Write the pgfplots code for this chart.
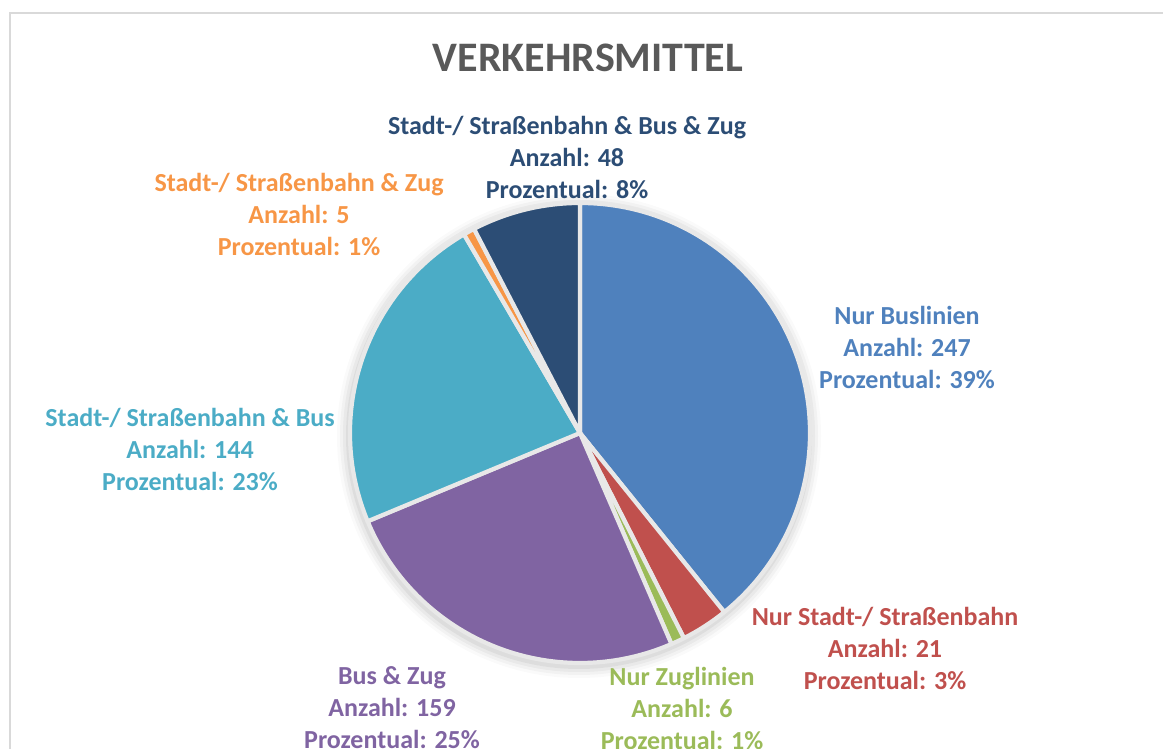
\documentclass[border=0pt]{standalone}
\usepackage{pgfplots}
\pgfplotsset{compat=1.18}
\usepackage{pgfplotstable}
\usepackage{fontspec}
\setmainfont{Carlito}
\definecolor{cBus}{HTML}{4F81BD}
\definecolor{cStr}{HTML}{C0504D}
\definecolor{cZug}{HTML}{9BBB59}
\definecolor{cBZ}{HTML}{8064A2}
\definecolor{cSB}{HTML}{4BACC6}
\definecolor{cSZ}{HTML}{F79646}
\definecolor{cSBZ}{HTML}{2C4D75}
\definecolor{gapgray}{HTML}{E8E8E8}
\definecolor{framegray}{HTML}{D9D9D9}
\definecolor{titlegray}{HTML}{595959}

% slice values (Anzahl), clockwise from 12 o'clock
\pgfplotstableread{
value
247
21
6
159
144
5
48
}\pietable

% total and cumulative angles (computed in the preamble)
\def\total{0}
\pgfplotsforeachungrouped \i in {0,...,6}{%
  \pgfplotstablegetelem{\i}{value}\of\pietable
  \pgfmathsetmacro\total{\total+\pgfplotsretval}%
}
\def\cum{0}
\pgfplotsforeachungrouped \i in {0,...,6}{%
  \pgfplotstablegetelem{\i}{value}\of\pietable
  \pgfmathsetmacro\s{90-360*(\cum/\total)}%
  \pgfmathsetmacro\cum{\cum+\pgfplotsretval}%
  \pgfmathsetmacro\e{90-360*(\cum/\total)}%
  \expandafter\xdef\csname sA\i\endcsname{\s}%
  \expandafter\xdef\csname eA\i\endcsname{\e}%
}
\newcommand\slice[2]{%
  \edef\tmpS{\csname sA#1\endcsname}\edef\tmpE{\csname eA#1\endcsname}%
  \edef\cmd{\noexpand\filldraw[fill=#2, draw=gapgray, line width=2.1pt, line join=round]
    (axis cs:580,316) -- ++(\tmpS:115pt) arc[start angle=\tmpS, end angle=\tmpE, radius=115pt] -- cycle;}%
  \cmd}

\begin{document}%
\begin{tikzpicture}
\begin{axis}[
  scale only axis, width=581.5pt, height=374.5pt,
  xmin=0, xmax=1163, ymin=0, ymax=749,
  hide axis, clip=false,
]
% chart frame
\draw[framegray, line width=1pt] (axis cs:10,-20) -- (axis cs:10,736) -- (axis cs:1180,736);
% title
\node[font=\fontsize{21}{25}\selectfont\bfseries, text=titlegray] at (axis cs:588,691) {VERKEHRSMITTEL};
% soft shadow
\fill[black, opacity=0.02] (axis cs:579,313) circle[radius=121pt];
\fill[black, opacity=0.03] (axis cs:579,313) circle[radius=119.5pt];
\fill[black, opacity=0.04] (axis cs:579,313) circle[radius=118pt];
\fill[black, opacity=0.05] (axis cs:579,313) circle[radius=116.5pt];
\slice{0}{cBus}
\slice{1}{cStr}
\slice{2}{cZug}
\slice{3}{cBZ}
\slice{4}{cSB}
\slice{5}{cSZ}
\slice{6}{cSBZ}
% labels
\tikzset{lab/.style={font=\fontsize{13}{16}\selectfont\bfseries, align=center, anchor=center, inner sep=0pt}}
\node[lab, text=cSBZ] at (axis cs:567,592) {Stadt-/ Straßenbahn \& Bus \& Zug\\Anzahl: 48\\Prozentual: 8\%};
\node[lab, text=cSZ] at (axis cs:299,535) {Stadt-/ Straßenbahn \& Zug\\Anzahl: 5\\Prozentual: 1\%};
\node[lab, text=cBus] at (axis cs:907,402) {Nur Buslinien\\Anzahl: 247\\Prozentual: 39\%};
\node[lab, text=cSB] at (axis cs:190,300) {Stadt-/ Straßenbahn \& Bus\\Anzahl: 144\\Prozentual: 23\%};
\node[lab, text=cStr] at (axis cs:885,101) {Nur Stadt-/ Straßenbahn\\Anzahl: 21\\Prozentual: 3\%};
\node[lab, text=cBZ] at (axis cs:392,41) {Bus \& Zug\\Anzahl: 159\\Prozentual: 25\%};
\node[lab, text=cZug] at (axis cs:682,41) {Nur Zuglinien\\Anzahl: 6\\Prozentual: 1\%};
\end{axis}
\pgfresetboundingbox
\path[use as bounding box] (0,0) rectangle (581.5pt,374.5pt);
\end{tikzpicture}%
\end{document}
